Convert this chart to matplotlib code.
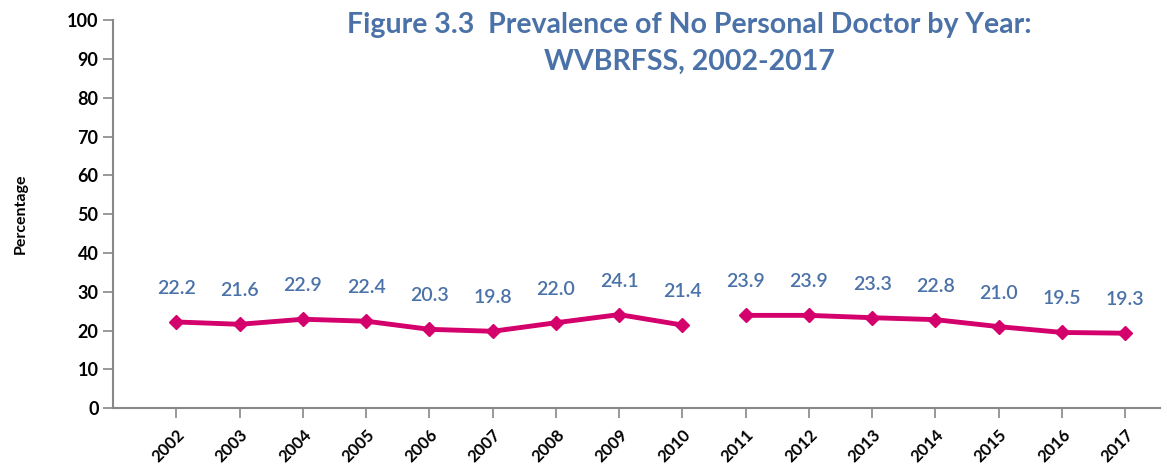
import numpy as np
import matplotlib.pyplot as plt

# data
years_a = ['2002', '2003', '2004', '2005', '2006', '2007', '2008', '2009', '2010']
vals_a = [22.2, 21.6, 22.9, 22.4, 20.3, 19.8, 22.0, 24.1, 21.4]
years_b = ['2011', '2012', '2013', '2014', '2015', '2016', '2017']
vals_b = [23.9, 23.9, 23.3, 22.8, 21.0, 19.5, 19.3]

years = years_a + years_b
line_col = '#d4006c'
lab_col = '#4a72a8'
plt.rcParams['font.family'] = ['Lato', 'DejaVu Sans']

fig = plt.figure(figsize=(11.67, 4.68), dpi=100)
ax = fig.add_axes([0.097, 0.128, 0.897, 0.829])

xa = np.arange(len(years_a))
xb = np.arange(len(years_a), len(years))
for xs, vs in [(xa, vals_a), (xb, vals_b)]:
    ax.plot(xs, vs, color=line_col, lw=3.5, marker='D', ms=7, zorder=3)
    for x, v in zip(xs, vs):
        ax.annotate(f'{v:.1f}', (x, v), xytext=(0, 18), textcoords='offset points',
                    ha='center', va='bottom', color=lab_col, fontsize=14,
                    fontweight='semibold')

ax.set_xlim(-1, 15.55)
ax.set_ylim(0, 100)
ax.set_yticks(range(0, 101, 10))
ax.set_xticks(range(len(years)))
ax.set_xticklabels(years, rotation=45, ha='right', rotation_mode='anchor',
                   fontsize=12, fontweight='bold')
for t in ax.get_yticklabels():
    t.set_fontweight('bold')
    t.set_fontsize(13)
ax.tick_params(axis='both', colors='#888888', labelcolor='black', length=7, width=1.2)
ax.tick_params(axis='x', pad=6)
for s in ['top', 'right']:
    ax.spines[s].set_visible(False)
for s in ['left', 'bottom']:
    ax.spines[s].set_color('#888888')
    ax.spines[s].set_linewidth(1.5)

ax.set_ylabel('Percentage', fontsize=11.5, fontweight='bold', labelpad=28)
fig.text(0.591, 0.975, 'Figure 3.3  Prevalence of No Personal Doctor by Year:\nWVBRFSS, 2002-2017',
         ha='center', va='top', color=lab_col, fontsize=20.5, fontweight='bold',
         linespacing=1.55)

fig.savefig('out.png', dpi=100)
